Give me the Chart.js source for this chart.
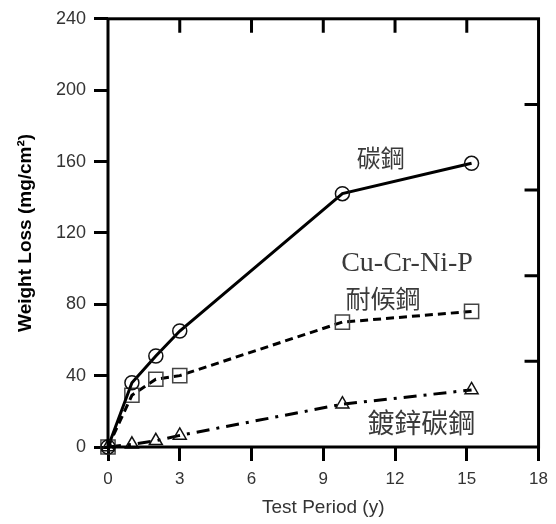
<!DOCTYPE html>
<html>
<head>
<meta charset="utf-8">
<script src="https://cdn.jsdelivr.net/npm/chart.js@4/dist/chart.umd.min.js"></script>
<style>
  html, body { margin: 0; padding: 0; background: #fff; }
  #wrap { width: 556px; height: 524px; position: relative; }
</style>
</head>
<body>
<div id="wrap"><canvas id="lossChart"></canvas></div>
<script>
// Weight loss of steels vs. exposure time
const years = [0, 1, 2, 3, 9.8, 15.2];
const carbonSteel = [0, 36, 51, 65, 142, 159];
const weatheringSteel = [0, 29, 38, 40, 70, 76];
const galvanizedSteel = [0, 1.5, 3.5, 6.5, 24, 32];

const xRange = [0, 18];
const xStep = 3;
const yRange = [0, 240];
const yStep = 40;
const rightStep = 48;

// curve labels, placed in data units
const curveNotes = [
  { text: '碳鋼', x: 11.4, y: 162, font: '24px "Noto Sans CJK TC"' },
  { text: 'Cu-Cr-Ni-P', x: 12.5, y: 103, font: '28px "Liberation Serif"' },
  { text: '耐候鋼', x: 11.5, y: 83, font: '25px "Noto Sans CJK TC"' },
  { text: '鍍鋅碳鋼', x: 13.1, y: 13.5, font: '27px "Noto Sans CJK TC"' }
];

const toPoints = vals => years.map((x, i) => ({ x, y: vals[i] }));

// box frame plus inward ticks on top and right edges
const frameAndNotes = {
  id: 'frameAndNotes',
  afterDatasetsDraw(chart) {
    const { ctx, chartArea: a, scales } = chart;
    ctx.save();
    ctx.strokeStyle = '#000';
    ctx.lineWidth = 3;
    ctx.strokeRect(a.left, a.top, a.right - a.left, a.bottom - a.top);
    ctx.beginPath();
    scales.x.ticks.forEach(t => {
      const px = scales.x.getPixelForValue(t.value);
      if (px <= a.left + 2 || px >= a.right - 2) return;
      ctx.moveTo(px, a.top);
      ctx.lineTo(px, a.top + 14);
    });
    scales.y2.ticks.forEach(t => {
      const py = scales.y2.getPixelForValue(t.value);
      if (py <= a.top + 2 || py >= a.bottom - 2) return;
      ctx.moveTo(a.right, py);
      ctx.lineTo(a.right - 14, py);
    });
    ctx.stroke();

    ctx.fillStyle = '#3a3a3a';
    ctx.textAlign = 'center';
    ctx.textBaseline = 'middle';
    curveNotes.forEach(n => {
      ctx.font = n.font;
      ctx.fillText(n.text, scales.x.getPixelForValue(n.x), scales.y.getPixelForValue(n.y));
    });
    ctx.restore();
  }
};

new Chart(document.getElementById('lossChart'), {
  type: 'scatter',
  data: {
    datasets: [
      {
        label: '碳鋼',
        data: toPoints(carbonSteel),
        showLine: true,
        borderColor: '#000',
        borderWidth: 3,
        pointStyle: 'circle',
        pointRadius: 7,
        pointBorderWidth: 1.5,
        pointBorderColor: '#111',
        pointBackgroundColor: 'rgba(0,0,0,0)',
        clip: false
      },
      {
        label: 'Cu-Cr-Ni-P 耐候鋼',
        data: toPoints(weatheringSteel),
        showLine: true,
        borderColor: '#000',
        borderWidth: 3,
        borderDash: [8, 5],
        pointStyle: 'rect',
        pointRadius: 10,
        pointBorderWidth: 1.5,
        pointBorderColor: '#444',
        pointBackgroundColor: 'rgba(0,0,0,0)',
        clip: false
      },
      {
        label: '鍍鋅碳鋼',
        data: toPoints(galvanizedSteel),
        showLine: true,
        borderColor: '#000',
        borderWidth: 3,
        borderDash: [13, 7, 3, 7],
        pointStyle: 'triangle',
        pointRadius: 7.5,
        pointBorderWidth: 1.5,
        pointBorderColor: '#111',
        pointBackgroundColor: 'rgba(0,0,0,0)',
        clip: false
      }
    ]
  },
  options: {
    responsive: true,
    maintainAspectRatio: false,
    animation: false,
    layout: { padding: { top: 15, right: 16, bottom: 0, left: 0 } },
    plugins: { legend: { display: false }, tooltip: { enabled: false } },
    scales: {
      x: {
        type: 'linear',
        position: 'bottom',
        min: xRange[0],
        max: xRange[1],
        afterFit: s => { s.height = 77; },
        ticks: { stepSize: xStep, padding: 8, color: '#333', font: { family: 'Liberation Sans', size: 17 } },
        grid: { drawOnChartArea: false, tickLength: 14, tickWidth: 3, tickColor: '#000' },
        border: { display: false },
        title: {
          display: true,
          text: 'Test Period (y)',
          color: '#333',
          font: { family: 'Liberation Sans', size: 19 },
          padding: { top: 0, bottom: 5 }
        }
      },
      y: {
        type: 'linear',
        position: 'left',
        min: yRange[0],
        max: yRange[1],
        afterFit: s => { s.width = 108; },
        ticks: { stepSize: yStep, padding: 8, color: '#333', font: { family: 'Liberation Sans', size: 18 } },
        grid: { drawOnChartArea: false, tickLength: 14, tickWidth: 3, tickColor: '#000' },
        border: { display: false },
        title: {
          display: true,
          text: 'Weight Loss (mg/cm²)',
          color: '#000',
          font: { family: 'Liberation Sans', size: 19, weight: 'bold' },
          padding: { top: 14, bottom: 0 }
        }
      },
      y2: {
        type: 'linear',
        position: 'right',
        min: yRange[0],
        max: yRange[1],
        afterFit: s => { s.width = 0; },
        ticks: { stepSize: rightStep, display: false },
        grid: { display: false },
        border: { display: false }
      }
    }
  },
  plugins: [frameAndNotes]
});
</script>
</body>
</html>
